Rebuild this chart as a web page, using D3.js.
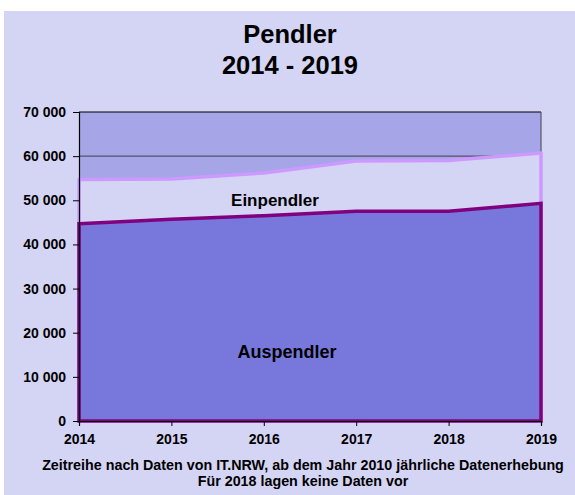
<!DOCTYPE html>
<html><head><meta charset="utf-8">
<script src="https://cdn.jsdelivr.net/npm/d3@7"></script>
<style>body{margin:0;background:#fff;}svg{display:block;font-family:"Liberation Sans",Arial,sans-serif;}</style>
</head><body>
<script>
const years = [2014, 2015, 2016, 2017, 2018, 2019];
const einpendler = [54700, 54800, 56200, 58900, 59000, 60700];
const auspendler = [44700, 45700, 46500, 47500, 47500, 49300];
const yTicks = [0, 10000, 20000, 30000, 40000, 50000, 60000, 70000];
const titleLines = ["Pendler", "2014 - 2019"];
const footerLines = ["Zeitreihe nach Daten von IT.NRW, ab dem Jahr 2010 jährliche Datenerhebung", "Für 2018 lagen keine Daten vor"];

const W = 575, H = 495;
const svg = d3.select("body").append("svg").attr("width", W).attr("height", H);
svg.append("rect").attr("x", 4).attr("y", 11).attr("width", W - 4).attr("height", H - 11).attr("fill", "#d4d4f4");

const x = d3.scaleLinear().domain([2014, 2019]).range([79, 541]);
const y = d3.scaleLinear().domain([0, 70000]).range([421, 112]);

// plot background
svg.append("rect").attr("x", x(2014)).attr("y", y(70000)).attr("width", x(2019) - x(2014)).attr("height", y(0) - y(70000)).attr("fill", "#a5a5e8");
// gridline
svg.append("line").attr("x1", x(2014)).attr("x2", x(2019)).attr("y1", y(60000)).attr("y2", y(60000)).attr("stroke", "#555566").attr("stroke-width", 1.2);
// borders
svg.append("line").attr("x1", x(2014)).attr("x2", x(2019)).attr("y1", y(70000)).attr("y2", y(70000)).attr("stroke", "#000").attr("stroke-width", 1.2);
svg.append("line").attr("x1", x(2019)).attr("x2", x(2019)).attr("y1", y(70000)).attr("y2", y(0)).attr("stroke", "#555566").attr("stroke-width", 1.2);

const area = vals => d3.area().x((d, i) => x(years[i])).y0(y(0)).y1(d => y(d))(vals);
const outline = vals => {
  const p = d3.path();
  p.moveTo(x(years[0]), y(0));
  vals.forEach((v, i) => p.lineTo(x(years[i]), y(v)));
  p.lineTo(x(years[years.length - 1]), y(0));
  return p.toString();
};

svg.append("path").attr("d", area(einpendler)).attr("fill", "#d4d4f4");
svg.append("path").attr("d", outline(einpendler)).attr("fill", "none").attr("stroke", "#cc99ff").attr("stroke-width", 3.5).attr("stroke-linejoin", "round");
svg.append("path").attr("d", area(auspendler)).attr("fill", "#7878dc");
svg.append("path").attr("d", area(auspendler)).attr("fill", "none").attr("stroke", "#800080").attr("stroke-width", 3.5).attr("stroke-linejoin", "miter");

// axes
const yAxis = d3.axisLeft(y).tickValues(yTicks).tickSize(6).tickPadding(7)
  .tickFormat(d => d3.format(",")(d).replace(/,/g, " "));
const gy = svg.append("g").attr("transform", `translate(${x(2014)},0)`).call(yAxis);
gy.select(".domain").attr("stroke", "#000").attr("stroke-width", 1.2);
gy.selectAll("line").attr("stroke", "#000");
gy.selectAll("text").attr("font-size", 14).attr("font-weight", "bold").attr("fill", "#000")
  .attr("font-family", "Liberation Sans, Arial, sans-serif");

const xAxis = d3.axisBottom(x).tickValues(years).tickFormat(d3.format("d")).tickSize(5).tickPadding(8);
const gx = svg.append("g").attr("transform", `translate(0,${y(0)})`).call(xAxis);
gx.select(".domain").attr("stroke", "#000").attr("stroke-width", 1.2);
gx.selectAll("line").attr("stroke", "#000");
gx.selectAll("text").attr("font-size", 14).attr("font-weight", "bold").attr("fill", "#000")
  .attr("font-family", "Liberation Sans, Arial, sans-serif");

// series labels
svg.append("text").attr("x", 275).attr("y", 206).attr("text-anchor", "middle").attr("font-size", 17).attr("font-weight", "bold").text("Einpendler");
svg.append("text").attr("x", 287).attr("y", 358).attr("text-anchor", "middle").attr("font-size", 18).attr("font-weight", "bold").text("Auspendler");

// title
svg.selectAll(".title").data(titleLines).join("text").attr("class", "title")
  .attr("x", 290).attr("y", (d, i) => 43 + i * 30.5).attr("text-anchor", "middle")
  .attr("font-size", 25.5).attr("font-weight", "bold").text(d => d);

// footer
svg.selectAll(".foot").data(footerLines).join("text").attr("class", "foot")
  .attr("x", 303).attr("y", (d, i) => 470 + i * 15.7).attr("text-anchor", "middle")
  .attr("font-size", 14.3).attr("font-weight", "bold").text(d => d);
</script>
</body></html>
